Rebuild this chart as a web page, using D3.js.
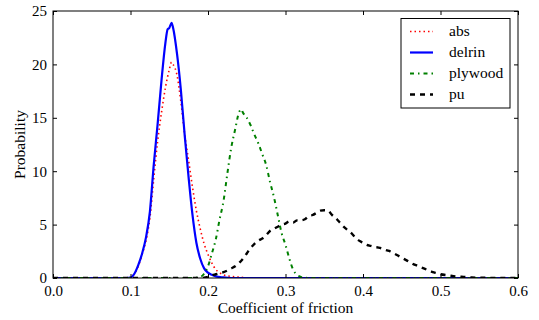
<!DOCTYPE html>
<html>
<head>
<meta charset="utf-8">
<script src="https://cdn.jsdelivr.net/npm/d3@7"></script>
<style>
  html, body { margin: 0; padding: 0; background: #fff; }
  svg text { font-family: "Liberation Serif", "DejaVu Serif", serif; fill: #000; }
</style>
</head>
<body>
<svg id="chart" width="539" height="320"></svg>
<script>
// ---- data ----
const xTicks = [0.0, 0.1, 0.2, 0.3, 0.4, 0.5, 0.6];
const yTicks = [0, 5, 10, 15, 20, 25];
const seriesNames = ["abs", "delrin", "plywood", "pu"];

const absX = [0, 0.09, 0.10, 0.105, 0.11, 0.115, 0.12, 0.125, 0.13, 0.135, 0.14, 0.145, 0.15, 0.153, 0.155, 0.16, 0.165, 0.17, 0.175, 0.18, 0.185, 0.19, 0.195, 0.20, 0.205, 0.21, 0.215, 0.22, 0.23, 0.24, 0.25, 0.26, 0.6];
const absY = [0, 0, 0.05, 0.4, 1.1, 2.2, 3.5, 5.6, 9.3, 12.8, 15.5, 17.8, 19.5, 20.2, 20.0, 19.0, 16.5, 13.4, 11.0, 8.5, 6.3, 4.6, 3.2, 2.2, 1.4, 0.8, 0.5, 0.3, 0.15, 0.08, 0.02, 0, 0];

const delrinX = [0, 0.09, 0.10, 0.105, 0.11, 0.115, 0.12, 0.125, 0.13, 0.135, 0.14, 0.145, 0.148, 0.15, 0.153, 0.155, 0.16, 0.165, 0.17, 0.175, 0.18, 0.185, 0.19, 0.195, 0.20, 0.205, 0.21, 0.22, 0.23, 0.6];
const delrinY = [0, 0, 0.05, 0.4, 1.2, 2.3, 3.8, 6.2, 10.6, 14.4, 18.5, 22.0, 23.3, 23.4, 23.9, 23.4, 21.0, 17.6, 13.3, 9.4, 5.9, 3.3, 1.8, 0.9, 0.5, 0.3, 0.15, 0.05, 0, 0];

const plywoodX = [0, 0.18, 0.19, 0.195, 0.20, 0.205, 0.21, 0.215, 0.22, 0.225, 0.23, 0.235, 0.24, 0.243, 0.245, 0.25, 0.255, 0.26, 0.265, 0.27, 0.275, 0.28, 0.285, 0.29, 0.295, 0.30, 0.305, 0.31, 0.315, 0.32, 0.33, 0.6];
const plywoodY = [0, 0, 0.1, 0.4, 1.1, 2.3, 3.6, 5.5, 7.2, 9.8, 12.2, 13.9, 15.5, 15.8, 15.5, 15.0, 14.3, 13.4, 12.6, 11.6, 10.6, 9.0, 7.6, 5.9, 4.2, 3.1, 1.8, 0.75, 0.3, 0.1, 0, 0];

const puX = [0, 0.19, 0.20, 0.205, 0.21, 0.215, 0.22, 0.225, 0.23, 0.235, 0.24, 0.245, 0.25, 0.255, 0.26, 0.265, 0.27, 0.275, 0.28, 0.285, 0.29, 0.295, 0.30, 0.305, 0.31, 0.315, 0.32, 0.325, 0.33, 0.335, 0.34, 0.345, 0.35, 0.355, 0.36, 0.365, 0.37, 0.375, 0.38, 0.385, 0.39, 0.395, 0.40, 0.405, 0.41, 0.415, 0.42, 0.425, 0.43, 0.435, 0.44, 0.445, 0.45, 0.455, 0.46, 0.465, 0.47, 0.475, 0.48, 0.485, 0.49, 0.495, 0.50, 0.51, 0.52, 0.53, 0.54, 0.55, 0.56, 0.6];
const puY = [0, 0, 0.1, 0.25, 0.35, 0.45, 0.55, 0.7, 0.9, 1.1, 1.4, 1.8, 2.3, 2.8, 3.2, 3.5, 3.7, 4.0, 4.4, 4.6, 4.8, 5.0, 5.1, 5.3, 5.2, 5.4, 5.4, 5.5, 5.8, 5.9, 6.1, 6.3, 6.35, 6.3, 5.9, 5.6, 5.2, 4.8, 4.5, 4.2, 3.8, 3.5, 3.3, 3.1, 3.0, 2.9, 2.85, 2.75, 2.6, 2.5, 2.3, 2.1, 1.9, 1.7, 1.5, 1.3, 1.15, 1.0, 0.85, 0.7, 0.55, 0.45, 0.35, 0.25, 0.15, 0.1, 0.05, 0.03, 0.02, 0];

// ---- layout ----
const margin = { left: 53, right: 21, top: 11, bottom: 42 };
const W = 539, H = 320;
const svg = d3.select("#chart");
const x = d3.scaleLinear().domain([0, 0.6]).range([margin.left, W - margin.right]);
const y = d3.scaleLinear().domain([0, 25]).range([H - margin.bottom, margin.top]);

const styles = {
  abs:     { color: "#ff0000", width: 1.6, dash: "1.5,3" },
  delrin:  { color: "#0000ff", width: 2.2, dash: null },
  plywood: { color: "#008000", width: 2, dash: "4,4,1.5,4" },
  pu:      { color: "#000000", width: 2.4, dash: "5,5" }
};
const seriesData = {
  abs: d3.zip(absX, absY),
  delrin: d3.zip(delrinX, delrinY),
  plywood: d3.zip(plywoodX, plywoodY),
  pu: d3.zip(puX, puY)
};

svg.append("defs").append("clipPath").attr("id", "clip")
  .append("rect")
  .attr("x", x(0)).attr("y", y(25))
  .attr("width", x(0.6) - x(0)).attr("height", y(0) - y(25));

const line = d3.line().x(d => x(d[0])).y(d => y(d[1])).curve(d3.curveMonotoneX);
const plot = svg.append("g").attr("clip-path", "url(#clip)");
seriesNames.forEach(name => {
  const s = styles[name];
  plot.append("path")
    .datum(seriesData[name])
    .attr("fill", "none")
    .attr("stroke", s.color)
    .attr("stroke-width", s.width)
    .attr("stroke-dasharray", s.dash)
    .attr("stroke-linejoin", "round")
    .attr("d", line);
});

// ---- axes (inward ticks on all sides) ----
const tickLen = 4;
const fmtX = d3.format(".1f");
const axB = svg.append("g").attr("transform", `translate(0,${y(0)})`)
  .call(d3.axisBottom(x).tickValues(xTicks).tickFormat(fmtX).tickSizeInner(-tickLen).tickSizeOuter(0).tickPadding(8));
const axT = svg.append("g").attr("transform", `translate(0,${y(25)})`)
  .call(d3.axisTop(x).tickValues(xTicks).tickFormat("").tickSizeInner(-tickLen).tickSizeOuter(0));
const axL = svg.append("g").attr("transform", `translate(${x(0)},0)`)
  .call(d3.axisLeft(y).tickValues(yTicks).tickFormat(d3.format("d")).tickSizeInner(-tickLen).tickSizeOuter(0).tickPadding(6));
const axR = svg.append("g").attr("transform", `translate(${x(0.6)},0)`)
  .call(d3.axisRight(y).tickValues(yTicks).tickFormat("").tickSizeInner(-tickLen).tickSizeOuter(0));
[axB, axT, axL, axR].forEach(a => {
  a.select(".domain").remove();
  a.selectAll(".tick line").attr("stroke", "#000").attr("stroke-width", 1);
  a.selectAll("text").attr("font-family", "Liberation Serif").attr("font-size", 15).attr("fill", "#000");
});
axB.selectAll("text").attr("dy", "0.68em");

// frame
svg.append("rect")
  .attr("x", x(0)).attr("y", y(25))
  .attr("width", x(0.6) - x(0)).attr("height", y(0) - y(25))
  .attr("fill", "none").attr("stroke", "#000").attr("stroke-width", 1);

// axis labels
svg.append("text")
  .attr("x", (x(0) + x(0.6)) / 2).attr("y", 313)
  .attr("text-anchor", "middle").attr("font-size", 15.5)
  .text("Coefficient of friction");
svg.append("text")
  .attr("transform", `translate(25,${(y(0) + y(25)) / 2}) rotate(-90)`)
  .attr("text-anchor", "middle").attr("font-size", 15.5)
  .text("Probability");

// ---- legend ----
const lg = svg.append("g");
lg.append("rect").attr("x", 401).attr("y", 18.5).attr("width", 109).attr("height", 89.5)
  .attr("fill", "#fff").attr("stroke", "#000").attr("stroke-width", 1);
seriesNames.forEach((name, i) => {
  const s = styles[name];
  const cy = 31.5 + i * 21;
  lg.append("line").attr("x1", 410).attr("x2", 433).attr("y1", cy).attr("y2", cy)
    .attr("stroke", s.color).attr("stroke-width", s.width).attr("stroke-dasharray", s.dash);
  lg.append("text").attr("x", 449).attr("y", cy + 4.5).attr("font-size", 15.5).text(name);
});
</script>
</body>
</html>
